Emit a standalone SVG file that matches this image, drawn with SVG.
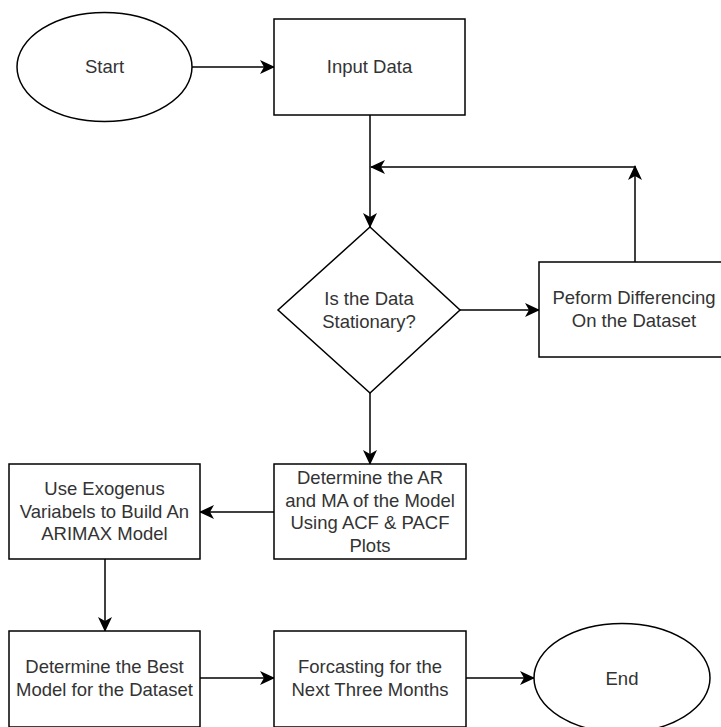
<svg xmlns="http://www.w3.org/2000/svg" width="721" height="727" viewBox="0 0 721 727">
<style>
.shape{fill:#ffffff;stroke:#000000;stroke-width:1.5}
.edge{fill:none;stroke:#000000;stroke-width:1.5}
.lbl{font-family:"Liberation Sans",Arial,sans-serif;font-size:18.5px;fill:#333333;text-anchor:middle}
</style>
<defs>
<marker id="arr" markerUnits="userSpaceOnUse" markerWidth="15" markerHeight="14" viewBox="0 0 15 14" refX="14" refY="7" orient="auto">
<path d="M0,0 L15,7 L0,14 L4,7 Z" fill="#000000"/>
</marker>
</defs>
<rect x="0" y="0" width="721" height="727" fill="#ffffff"/>
<g id="edges">
<line class="edge" x1="192" y1="67" x2="274" y2="67" marker-end="url(#arr)"/>
<line class="edge" x1="370" y1="115" x2="370" y2="227" marker-end="url(#arr)"/>
<line class="edge" x1="460" y1="310" x2="539" y2="310" marker-end="url(#arr)"/>
<line class="edge" x1="635" y1="262" x2="635" y2="166" marker-end="url(#arr)"/>
<line class="edge" x1="635" y1="167" x2="371" y2="167" marker-end="url(#arr)"/>
<line class="edge" x1="370" y1="393" x2="370" y2="464" marker-end="url(#arr)"/>
<line class="edge" x1="274" y1="512" x2="200" y2="512" marker-end="url(#arr)"/>
<line class="edge" x1="105" y1="559" x2="105" y2="631" marker-end="url(#arr)"/>
<line class="edge" x1="200" y1="678" x2="274" y2="678" marker-end="url(#arr)"/>
<line class="edge" x1="466" y1="678" x2="534" y2="678" marker-end="url(#arr)"/>
</g>
<g id="start">
<ellipse class="shape" cx="104.5" cy="67" rx="87.5" ry="54.5"/>
<text class="lbl" x="104.5" y="73">Start</text>
</g>
<g id="input">
<rect class="shape" x="274" y="19" width="191" height="96"/>
<text class="lbl" x="369.5" y="73">Input Data</text>
</g>
<g id="decision">
<polygon class="shape" points="370,227 460,310 370,393 278,310"/>
<text class="lbl" x="369" y="305">Is the Data</text>
<text class="lbl" x="369" y="328">Stationary?</text>
</g>
<g id="differencing">
<rect class="shape" x="539" y="262" width="192" height="95"/>
<text class="lbl" x="634" y="304">Peform Differencing</text>
<text class="lbl" x="634" y="327">On the Dataset</text>
</g>
<g id="armafit">
<rect class="shape" x="274" y="464" width="192" height="95"/>
<text class="lbl" x="370" y="484">Determine the AR</text>
<text class="lbl" x="370" y="506.5">and MA of the Model</text>
<text class="lbl" x="370" y="529">Using ACF &amp; PACF</text>
<text class="lbl" x="370" y="551.5">Plots</text>
</g>
<g id="arimax">
<rect class="shape" x="9" y="464" width="191" height="95"/>
<text class="lbl" x="104.5" y="495">Use Exogenus</text>
<text class="lbl" x="104.5" y="517.5">Variabels to Build An</text>
<text class="lbl" x="104.5" y="540">ARIMAX Model</text>
</g>
<g id="best">
<rect class="shape" x="9" y="631" width="191" height="96"/>
<text class="lbl" x="104.5" y="673">Determine the Best</text>
<text class="lbl" x="104.5" y="696">Model for the Dataset</text>
</g>
<g id="forecast">
<rect class="shape" x="274" y="631" width="192" height="96"/>
<text class="lbl" x="370" y="673">Forcasting for the</text>
<text class="lbl" x="370" y="696">Next Three Months</text>
</g>
<g id="end">
<ellipse class="shape" cx="622" cy="678" rx="88" ry="54.5"/>
<text class="lbl" x="622" y="685">End</text>
</g>
</svg>
